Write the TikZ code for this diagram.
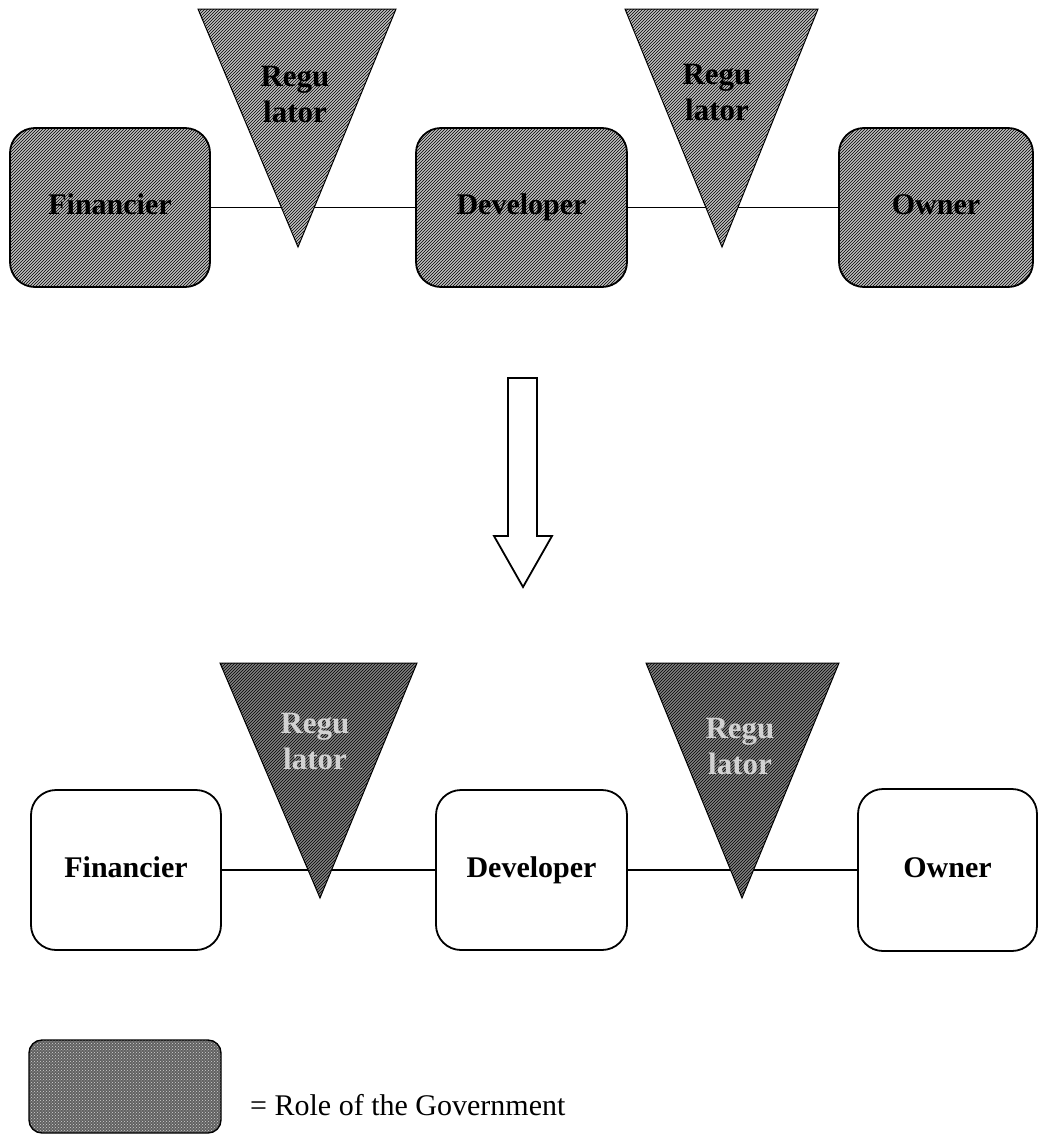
\documentclass[tikz,border=0pt]{standalone}
\usepackage{fontspec}
\setmainfont{Liberation Serif}
\usetikzlibrary{patterns}
\tikzset{
  govfill/.style={preaction={fill=gray!50}, pattern=north east lines, pattern color=black},
  govdark/.style={preaction={fill=black!50}, pattern=north east lines, pattern color=black},
  govdots/.style={preaction={fill=black!62}, pattern=crosshatch dots, pattern color=gray!35},
  rolebox/.style={draw=black, line width=1.8pt, rounded corners=25pt, rectangle, inner sep=0pt,
    text height=21pt, text depth=7pt,
    font=\fontsize{30}{36}\selectfont\bfseries},
  govbox/.style={rolebox, govfill},
  plainbox/.style={rolebox, fill=white},
  tri/.style={draw=black, line width=1pt, line join=miter},
  regtext/.style={align=center, inner sep=0pt, font=\fontsize{31}{36}\selectfont\bfseries},
  link/.style={draw=black, line width=1.4pt}
}
\begin{document}
\begin{tikzpicture}[x=1pt,y=-1pt]
\useasboundingbox (0,0) rectangle (1042,1135);

% ---------- top row ----------
\node[govbox, minimum width=200pt, minimum height=159pt] (fin1) at (110,207.5) {Financier};
\node[govbox, minimum width=211pt, minimum height=159pt] (dev1) at (521.5,207.5) {Developer};
\node[govbox, minimum width=194pt, minimum height=159pt] (own1) at (936,207.5) {Owner};
\draw[link] (fin1.east) -- (dev1.west);
\draw[link] (dev1.east) -- (own1.west);
\path[tri, govfill] (198,9) -- (396,9) -- (298,247) -- cycle;
\path[tri, govfill] (625,9) -- (818,9) -- (722,247) -- cycle;
\node[regtext] (reg1) at (295,95) {Regu\\lator};
\node[regtext] (reg2) at (717,93) {Regu\\lator};

% ---------- transition arrow ----------
\path[draw=black, line width=1.8pt, fill=white, line join=miter]
  (508,378) -- (537,378) -- (537,536) -- (552,536) -- (523,587) -- (494,536) -- (508,536) -- cycle;

% ---------- bottom row ----------
\node[plainbox, minimum width=190pt, minimum height=160pt] (fin2) at (126,870) {Financier};
\node[plainbox, minimum width=191pt, minimum height=160pt] (dev2) at (531.5,870) {Developer};
\node[plainbox, minimum width=179pt, minimum height=162pt] (own2) at (947.5,870) {Owner};
\draw[link] (fin2.east) -- (dev2.west);
\draw[link] (dev2.east) -- (own2.west);
\path[tri, govdark] (220,663) -- (417,663) -- (320,898) -- cycle;
\path[tri, govdark] (646,663) -- (839,663) -- (742,898) -- cycle;
\node[regtext, text=gray!35] (reg3) at (315,741) {Regu\\lator};
\node[regtext, text=gray!35] (reg4) at (740,746) {Regu\\lator};

% ---------- legend ----------
\node[draw=black, line width=1.4pt, rounded corners=13pt, govdots, minimum width=192pt, minimum height=93pt, inner sep=0pt] (leg) at (125,1086.5) {};
\node[anchor=base west, inner sep=0pt, font=\fontsize{30}{36}\selectfont] (legtext) at (250,1115) {= Role of the Government};
\end{tikzpicture}
\end{document}
